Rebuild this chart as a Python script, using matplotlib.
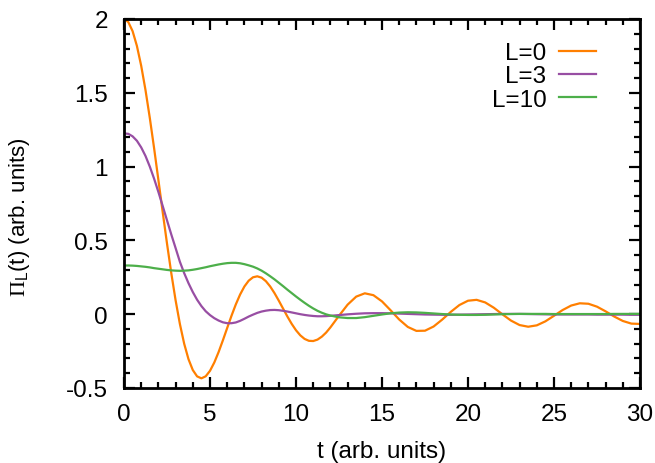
import matplotlib
matplotlib.use("Agg")
import matplotlib.pyplot as plt
from matplotlib.ticker import MultipleLocator

# time grid: 0.25 steps up to 12, then 0.5 steps
t_fine = [i * 0.25 for i in range(49)]
t_coarse = [12.5 + i * 0.5 for i in range(36)]
t = t_fine + t_coarse

pi_L0 = [2.0000, 1.9793, 1.9177, 1.8177, 1.6829, 1.5184, 1.3300, 1.1246,
         0.9093, 0.6916, 0.4788, 0.2776, 0.0941, -0.0666, -0.2005, -0.3049,
         -0.3784, -0.4212, -0.4345, -0.4208, -0.3836, -0.3272, -0.2565, -0.1768,
         -0.0931, -0.0106, 0.0662, 0.1333, 0.1877, 0.2271, 0.2501, 0.2567,
         0.2474, 0.2237, 0.1879, 0.1428, 0.0916, 0.0377, -0.0158, -0.0655,
         -0.1088, -0.1433, -0.1675, -0.1803, -0.1818, -0.1721, -0.1523, -0.1246,
         -0.0894,
         -0.0106, 0.0646, 0.1191, 0.1415, 0.1289, 0.0867, 0.0266, -0.0360,
         -0.0863, -0.1131, -0.1118, -0.0834, -0.0366, 0.0158, 0.0621, 0.0913,
         0.0973, 0.0797, 0.0439, -0.0008, -0.0433, -0.0736, -0.0849, -0.0755,
         -0.0483, -0.0106, 0.0281, 0.0587, 0.0739, 0.0708, 0.0510, 0.0194,
         -0.0157, -0.0458, -0.0638, -0.0659]

pi_L3 = [1.225, 1.222, 1.205, 1.175, 1.130, 1.072, 1.000, 0.918,
         0.828, 0.733, 0.636, 0.540, 0.448, 0.355, 0.278, 0.210,
         0.150, 0.098, 0.055, 0.020, -0.006, -0.027, -0.043, -0.055,
         -0.061, -0.061, -0.056, -0.045, -0.031, -0.016, -0.003, 0.009,
         0.018, 0.024, 0.028, 0.029, 0.027, 0.023, 0.018, 0.012,
         0.006, 0.000, -0.005, -0.009, -0.012, -0.014, -0.014, -0.013,
         -0.011,
         -0.006, -0.001, 0.003, 0.006, 0.007, 0.007, 0.006, 0.004,
         0.002, 0.000, -0.002, -0.003, -0.004, -0.004, -0.003, -0.002,
         -0.001, 0.000, 0.001, 0.002, 0.002, 0.002, 0.001, 0.000,
         -0.001, -0.002, -0.002, -0.002, -0.002, -0.002, -0.003, -0.003,
         -0.003, -0.003, -0.004, -0.004]

pi_L10 = [0.330, 0.330, 0.329, 0.327, 0.324, 0.321, 0.317, 0.312,
          0.308, 0.304, 0.300, 0.297, 0.295, 0.294, 0.295, 0.297,
          0.301, 0.306, 0.312, 0.318, 0.325, 0.331, 0.337, 0.342,
          0.346, 0.348, 0.348, 0.345, 0.339, 0.331, 0.322, 0.310,
          0.295, 0.277, 0.257, 0.236, 0.213, 0.190, 0.166, 0.143,
          0.120, 0.098, 0.077, 0.057, 0.039, 0.023, 0.010, -0.001,
          -0.009,
          -0.021, -0.026, -0.026, -0.020, -0.011, -0.002, 0.006, 0.011,
          0.013, 0.012, 0.009, 0.005, 0.001, -0.002, -0.004, -0.005,
          -0.005, -0.004, -0.002, 0.000, 0.001, 0.002, 0.002, 0.002,
          0.002, 0.001, 0.001, 0.001, 0.001, 0.001, 0.001, 0.001,
          0.002, 0.002, 0.002, 0.002]

series = [("L=0", pi_L0, "#ff7f00"),
          ("L=3", pi_L3, "#984ea3"),
          ("L=10", pi_L10, "#4daf4a")]

plt.rcParams['font.family'] = ['Liberation Sans', 'DejaVu Sans']
plt.rcParams['mathtext.fontset'] = 'custom'
plt.rcParams['mathtext.rm'] = 'Liberation Serif'
plt.rcParams['mathtext.sf'] = 'Liberation Sans'

FS = 17.5

fig = plt.figure(figsize=(6.55, 4.64), dpi=100)
ax = fig.add_axes([124 / 655, 1 - 389 / 464, 516 / 655, 369 / 464])

for label, vals, color in series:
    ax.plot(t, vals, color=color, lw=1.6, label=label)

ax.set_xlim(0, 30)
ax.set_ylim(-0.5, 2)
ax.xaxis.set_major_locator(MultipleLocator(5))
ax.xaxis.set_minor_locator(MultipleLocator(1))
ax.yaxis.set_minor_locator(MultipleLocator(0.1))
ax.set_yticks([-0.5, 0, 0.5, 1, 1.5, 2])
ax.set_yticklabels(["-0.5", "0", "0.5", "1", "1.5", "2"])

ax.tick_params(which='both', direction='in', top=True, right=True,
               labelsize=FS, width=1.6)
ax.tick_params(axis='x', which='major', pad=10.5)
ax.tick_params(axis='y', which='major', pad=11.5)
ax.tick_params(which='major', length=8)
ax.tick_params(which='minor', length=4)
for sp in ax.spines.values():
    sp.set_linewidth(2)

ax.set_xlabel("t (arb. units)", fontsize=FS, labelpad=11)
ax.set_ylabel(r"$\Pi_\mathsf{L}$(t) (arb. units)", fontsize=16)
ax.yaxis.set_label_coords(-0.178, 0.466)

leg = ax.legend(loc='upper right', bbox_to_anchor=(0.934, 0.964),
                frameon=False, markerfirst=False, fontsize=FS,
                handlelength=1.52, handletextpad=0.53,
                labelspacing=0.06, borderaxespad=0)

fig.savefig("out.png", dpi=100)
